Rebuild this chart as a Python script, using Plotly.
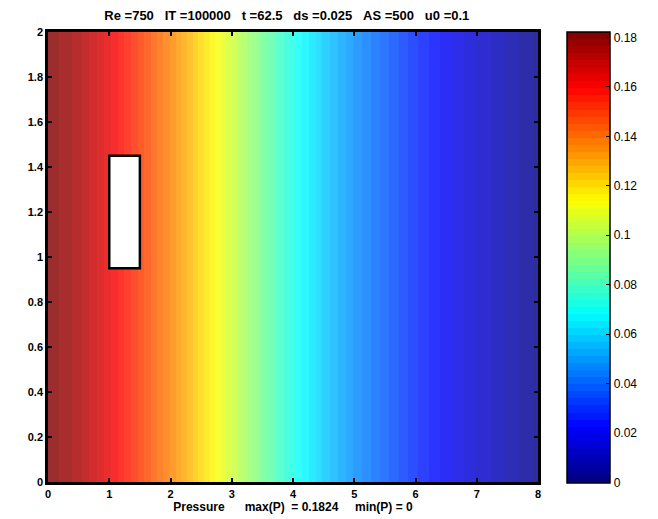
import plotly.graph_objects as go

# ---- data ----
x_pos = [0.0, 0.5, 1.0, 1.5, 2.0, 2.5, 3.0, 3.5, 4.0, 4.5, 5.0, 5.5, 6.0, 6.5, 7.0, 7.5, 8.0]
pressure = [0.182, 0.175, 0.163, 0.150, 0.136, 0.121, 0.105, 0.088, 0.072,
            0.059, 0.048, 0.038, 0.029, 0.021, 0.014, 0.008, 0.002]
y_pos = [0.0, 2.0]
obstacle_x = [1.0, 1.5]
obstacle_y = [0.95, 1.45]
p_max = 0.1824
p_min = 0.0
x_ticks = [0, 1, 2, 3, 4, 5, 6, 7, 8]
y_ticks = [0, 0.2, 0.4, 0.6, 0.8, 1, 1.2, 1.4, 1.6, 1.8, 2]
cb_ticks = [0, 0.02, 0.04, 0.06, 0.08, 0.1, 0.12, 0.14, 0.16, 0.18]
title_text = "Re =750   IT =100000   t =62.5   ds =0.025   AS =500   u0 =0.1"
xlabel_text = "Pressure      max(P)  = 0.1824     min(P) = 0"


# ---- MATLAB-like jet colormap, 64 discrete levels ----
def jet(f):
    def ch(v):
        return max(0.0, min(1.0, v))
    r = ch(1.5 - abs(4 * f - 3))
    g = ch(1.5 - abs(4 * f - 2))
    b = ch(1.5 - abs(4 * f - 1))
    return "rgb(%d,%d,%d)" % (round(r * 255), round(g * 255), round(b * 255))

N = 64
colorscale = []
for k in range(N):
    c = jet((k + 0.5) / N)
    colorscale.append([k / N, c])
    colorscale.append([(k + 1) / N, c])

z = [pressure for _ in y_pos]

nb = lambda s: s.replace(" ", "\u00a0")

fig = go.Figure()
fig.add_trace(go.Heatmap(
    x=x_pos, y=y_pos, z=z,
    zmin=p_min, zmax=p_max,
    colorscale=colorscale,
    zsmooth="best",
    opacity=0.82,
    hoverinfo="skip",
    colorbar=dict(
        x=0.9235, xanchor="left",
        y=0.5, yanchor="middle",
        len=451, lenmode="pixels",
        thickness=43, thicknessmode="pixels",
        outlinecolor="black", outlinewidth=1.5,
        tickvals=cb_ticks,
        ticktext=[("%g" % v) for v in cb_ticks],
        ticks="inside", ticklen=4, tickcolor="black",
        tickfont=dict(family="Liberation Sans, Arial", size=12, color="black"),
        xpad=0, ypad=0,
    ),
))

fig.add_shape(type="rect", xref="x", yref="y",
              x0=obstacle_x[0], x1=obstacle_x[1],
              y0=obstacle_y[0], y1=obstacle_y[1],
              fillcolor="white", line=dict(color="black", width=2.5))

axis_font = dict(family="Liberation Sans, Arial", size=11, color="black", weight="bold")
label_font = dict(family="Liberation Sans, Arial", size=12, color="black", weight="bold")
fig.update_layout(
    width=658, height=519,
    margin=dict(l=48, r=48, t=32, b=37, autoexpand=False),
    paper_bgcolor="white", plot_bgcolor="white",
    title=dict(text=nb(title_text), x=0.4359, xanchor="center", y=0.971, yanchor="middle",
               font=dict(family="Liberation Sans, Arial", size=13, color="black", weight="bold")),
    xaxis=dict(domain=[0, 490 / 562], range=[0, 8], tickvals=x_ticks,
               ticks="inside", ticklen=4, tickcolor="black", tickwidth=1.5,
               showline=True, linecolor="black", linewidth=2.5, mirror="ticks",
               showgrid=False, zeroline=False, tickfont=axis_font, automargin=False,
               title=dict(text=nb(xlabel_text), font=label_font, standoff=4)),
    yaxis=dict(range=[0, 2], tickvals=y_ticks, ticktext=["%g" % v for v in y_ticks],
               ticks="inside", ticklen=4, tickcolor="black", tickwidth=1.5,
               showline=True, linecolor="black", linewidth=2.5, mirror="ticks",
               showgrid=False, zeroline=False, tickfont=axis_font, automargin=False),
)

fig.write_html("out.html", config={"displayModeBar": False},
               post_script="document.body.style.margin='0';document.body.style.padding='0';")
